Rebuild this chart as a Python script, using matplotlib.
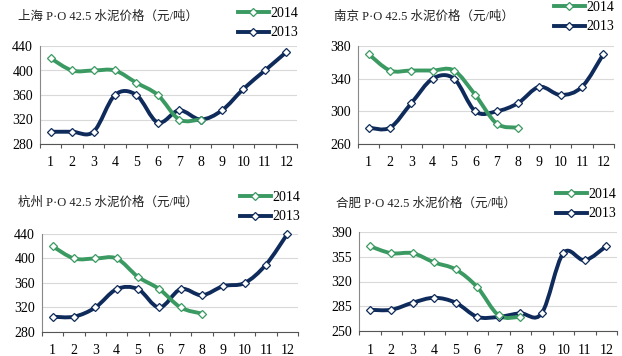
import matplotlib
matplotlib.use('Agg')
import matplotlib.pyplot as plt
from matplotlib.path import Path
from matplotlib.patches import PathPatch
from matplotlib.lines import Line2D
import numpy as np

months = list(range(1, 13))
month_labels = [str(m) for m in months]

# 上海
sh_2014 = [420, 400, 400, 400, 380, 360, 320, 320]
sh_2013 = [300, 300, 300, 360, 360, 315, 335, 320, 335, 370, 400, 430]
# 南京
nj_2014 = [370, 350, 350, 350, 350, 320, 285, 280]
nj_2013 = [280, 280, 310, 340, 340, 300, 300, 310, 330, 320, 330, 370]
# 杭州
hz_2014 = [420, 400, 400, 400, 370, 350, 320, 310]
hz_2013 = [305, 305, 320, 350, 350, 320, 350, 340, 355, 360, 390, 440]
# 合肥
hf_2014 = [370, 360, 360, 347, 337, 312, 272, 270]
hf_2013 = [280, 280, 290, 297, 290, 270, 270, 275, 275, 360, 350, 370]

titles = ['上海 P·O 42.5 水泥价格（元/吨）', '南京 P·O 42.5 水泥价格（元/吨）',
          '杭州 P·O 42.5 水泥价格（元/吨）', '合肥 P·O 42.5 水泥价格（元/吨）']

GREEN = '#3a9a62'
NAVY = '#0f2b5b'
FONT = ['Liberation Serif', 'Noto Sans CJK SC']
plt.rcParams['font.family'] = FONT

W, H = 622, 356
fig = plt.figure(figsize=(W / 100, H / 100), dpi=100)

# pixel boxes: left, right, top, bottom  / title pos / legend pos
panels = [
    dict(box=(40, 297, 46, 144), ylim=(280, 440, 40), title=(18, 17), leg=(238, 23),
         d14=sh_2014, d13=sh_2013),
    dict(box=(358, 614, 46, 144), ylim=(260, 380, 40), title=(334, 17), leg=(554, 17),
         d14=nj_2014, d13=nj_2013),
    dict(box=(42, 298, 234, 332), ylim=(280, 440, 40), title=(18, 203), leg=(240, 207),
         d14=hz_2014, d13=hz_2013),
    dict(box=(359, 617, 232, 331), ylim=(250, 390, 35), title=(336, 204), leg=(556, 204),
         d14=hf_2014, d13=hf_2013),
]


def smooth_path(xs, ys):
    # bezier like excel smoothed line
    p = np.column_stack([xs, ys]).astype(float)
    n = len(p)
    verts = [p[0]]
    codes = [Path.MOVETO]
    for i in range(n - 1):
        p0 = p[i - 1] if i > 0 else p[i]
        p3 = p[i + 2] if i + 2 < n else p[i + 1]
        c1 = p[i] + (p[i + 1] - p0) / 6
        c2 = p[i + 1] - (p3 - p[i]) / 6
        verts += [c1, c2, p[i + 1]]
        codes += [Path.CURVE4] * 3
    return Path(verts, codes)


def draw_series(ax, vals, color):
    xs = months[:len(vals)]
    ax.add_patch(PathPatch(smooth_path(xs, vals), facecolor='none', edgecolor=color,
                           lw=2.8, capstyle='round', joinstyle='round', zorder=3, clip_on=False))
    ax.plot(xs, vals, ls='none', marker='D', ms=4.5, mfc='white', mec=color, mew=0.9,
            zorder=4, clip_on=False)


for i, pn in enumerate(panels):
    l, r, t, b = pn['box']
    ax = fig.add_axes([l / W, 1 - b / H, (r - l) / W, (b - t) / H])
    lo, hi, step = pn['ylim']
    ax.set_xlim(0.5, 12.5)
    ax.set_ylim(lo, hi)
    ax.set_yticks(np.arange(lo, hi + 1, step))
    ax.set_xticks(months)
    ax.set_xticklabels(month_labels)
    ax.set_xticks(np.arange(0.5, 13, 1), minor=True)
    ax.tick_params(axis='x', which='major', length=0, pad=9, labelsize=10)
    ax.tick_params(axis='x', which='minor', length=3, width=0.8, color='#555555', direction='out')
    ax.tick_params(axis='y', length=0, pad=5, labelsize=10)
    ax.grid(axis='y', color='#d9d9d9', lw=0.8)
    ax.set_axisbelow(True)
    for s in ['top', 'right']:
        ax.spines[s].set_visible(False)
    ax.spines['left'].set_color('#888888')
    ax.spines['bottom'].set_color('#555555')
    ax.spines['left'].set_linewidth(0.8)
    ax.spines['bottom'].set_linewidth(0.8)

    draw_series(ax, pn['d13'], NAVY)
    draw_series(ax, pn['d14'], GREEN)

    tx, ty = pn['title']
    fig.text(tx / W, 1 - ty / H, titles[i], fontsize=9, va='center', ha='left', color='#222222')

    handles = [Line2D([], [], color=GREEN, lw=2.8, marker='D', ms=4.5, mfc='white', mec=GREEN, mew=0.9),
               Line2D([], [], color=NAVY, lw=2.8, marker='D', ms=4.5, mfc='white', mec=NAVY, mew=0.9)]
    lx, ly = pn['leg']
    ax.legend(handles, ['2014', '2013'], loc='center left', bbox_to_anchor=(lx / W, 1 - ly / H),
              bbox_transform=fig.transFigure, frameon=False, fontsize=10, handlelength=2.2,
              handletextpad=0.1, borderpad=0, borderaxespad=0, labelspacing=0.5)

fig.savefig('out.png', dpi=100)
